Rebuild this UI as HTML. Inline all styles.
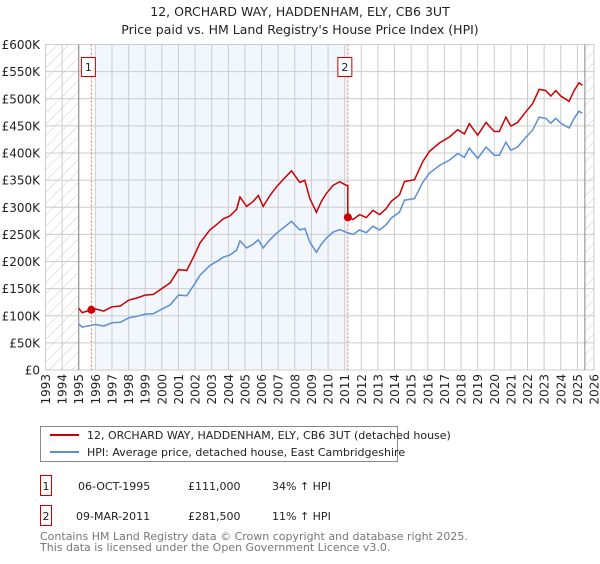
<!DOCTYPE html>
<html><head><meta charset="utf-8"><style>
body{margin:0;background:#fff;font-family:"DejaVu Sans","Liberation Sans",sans-serif;}
svg text{font-family:"DejaVu Sans","Liberation Sans",sans-serif;}
</style></head><body>
<svg id="chart" width="600" height="560" xmlns="http://www.w3.org/2000/svg">
<defs><pattern id="hatch" patternUnits="userSpaceOnUse" width="8" height="8" patternTransform="rotate(45)"><line x1="0" y1="0" x2="0" y2="8" stroke="#ccc" stroke-width="1"/></pattern></defs>
<text x="300" y="16" text-anchor="middle" font-size="12.5" fill="#222">12, ORCHARD WAY, HADDENHAM, ELY, CB6 3UT</text>
<text x="300" y="34" text-anchor="middle" font-size="12.5" fill="#222">Price paid vs. HM Land Registry's House Price Index (HPI)</text>
<g id="plot"></g>
<g>
<rect x="40.5" y="426.5" width="357" height="35" fill="#fff" stroke="#888"/>
<line x1="50" y1="435" x2="79" y2="435" stroke="#cc0000" stroke-width="2"/>
<text x="87" y="439" font-size="11" fill="#222">12, ORCHARD WAY, HADDENHAM, ELY, CB6 3UT (detached house)</text>
<line x1="50" y1="452" x2="79" y2="452" stroke="#5b8fd4" stroke-width="2"/>
<text x="87" y="456" font-size="11" fill="#222">HPI: Average price, detached house, East Cambridgeshire</text>
</g>
<g font-size="11" fill="#222">
<rect x="40.5" y="475.5" width="11" height="20" fill="#fff" stroke="#cc0000"/>
<text x="46" y="490" text-anchor="middle">1</text>
<text x="78" y="490">06-OCT-1995</text><text x="188" y="490">£111,000</text><text x="272" y="490">34% ↑ HPI</text>
<rect x="40.5" y="505.5" width="11" height="20" fill="#fff" stroke="#cc0000"/>
<text x="46" y="520" text-anchor="middle">2</text>
<text x="76" y="520">09-MAR-2011</text><text x="188" y="520">£281,500</text><text x="272" y="520">11% ↑ HPI</text>
</g>
<text x="40" y="540" font-size="11" fill="#777">Contains HM Land Registry data © Crown copyright and database right 2025.</text>
<text x="40" y="551" font-size="11" fill="#777">This data is licensed under the Open Government Licence v3.0.</text>
</svg>
<script>
const hpiYears=[1995.0,1995.2,1995.5,1996.0,1996.5,1997.0,1997.5,1998.0,1998.5,1999.0,1999.5,2000.0,2000.5,2001.0,2001.5,2002.0,2002.3,2002.9,2003.3,2003.7,2004.1,2004.5,2004.7,2005.1,2005.5,2005.8,2006.1,2006.5,2006.9,2007.3,2007.8,2008.3,2008.6,2008.9,2009.3,2009.6,2009.9,2010.3,2010.7,2011.1,2011.5,2011.9,2012.3,2012.7,2013.1,2013.5,2013.8,2014.3,2014.6,2015.2,2015.7,2016.1,2016.7,2017.3,2017.8,2018.2,2018.5,2019.0,2019.5,2020.0,2020.3,2020.7,2021.0,2021.4,2021.9,2022.3,2022.7,2023.1,2023.4,2023.7,2024.0,2024.5,2024.8,2025.1,2025.3];
const hpiValues=[85,79,81,84,81,87,88,96,99,103,104,112,120,138,137,160,175,193,200,208,212,221,238,225,232,240,225,240,252,262,274,258,261,236,217,232,243,254,259,254,250,258,253,265,258,268,280,291,313,316,346,363,377,387,399,392,409,390,411,396,396,420,405,411,429,442,466,464,455,464,455,446,464,477,473];
const saleYears=[1995.76,2011.19];
const salePrices=[111,281.5];
const saleRatios=[1.34,1.11];
const yTicks=[0,50,100,150,200,250,300,350,400,450,500,550,600];
const xTicks=[1993,1994,1995,1996,1997,1998,1999,2000,2001,2002,2003,2004,2005,2006,2007,2008,2009,2010,2011,2012,2013,2014,2015,2016,2017,2018,2019,2020,2021,2022,2023,2024,2025,2026];

const L=45.5,R=594,T=44.5,B=370;
const X=y=>L+(y-1993)/(2026-1993)*(R-L);
const Y=v=>B-v/600*(B-T);
const NS="http://www.w3.org/2000/svg";
const g=document.getElementById('plot');
function mk(tag,attrs,parent){const e=document.createElementNS(NS,tag);for(const k in attrs)e.setAttribute(k,attrs[k]);(parent||g).appendChild(e);return e;}

const bg=mk('rect',{x:L,y:T,width:R-L,height:B-T,fill:'#fff'});


const sh=mk('rect',{x:X(1996),y:T,width:X(saleYears[1])-X(1996),height:B-T,fill:'#f2f6fd'});


const h1=mk('rect',{x:L,y:T,width:X(1995)-L,height:B-T,fill:'url(#hatch)'});


const h2=mk('rect',{x:X(2025.45),y:T,width:R-X(2025.45),height:B-T,fill:'url(#hatch)'});



yTicks.forEach(v=>{
  const l=mk('line',{x1:L,x2:R,y1:Y(v),y2:Y(v),stroke:'#ccc','stroke-width':1});
  
  
  const t=mk('text',{x:40,y:Y(v)+4.5,'text-anchor':'end','font-size':12,fill:'#222'});
  
  
  t.textContent=v===0?'£0':'£'+v+'K';
});
xTicks.forEach(yr=>{
  const l=mk('line',{x1:X(yr),x2:X(yr),y1:T,y2:B,stroke:'#ccc','stroke-width':1});
  
  
  const t=mk('text',{x:0,y:0,'text-anchor':'end','font-size':12,fill:'#222',transform:`translate(${X(yr)+4.5},374) rotate(-90)`});
  
  
  t.textContent=yr;
});
const v1=mk('line',{x1:X(1995),x2:X(1995),y1:T,y2:B,stroke:'#888','stroke-width':1});


const v2=mk('line',{x1:X(2025.45),x2:X(2025.45),y1:T,y2:B,stroke:'#888','stroke-width':1});



saleYears.forEach((sy,i)=>{
  const l=mk('line',{x1:X(sy),x2:X(sy),y1:T,y2:B,stroke:'#e07070','stroke-width':1,'stroke-dasharray':'2,2'});
  
  
  const r=mk('rect',{x:X(sy)-10,y:57.5,width:14,height:19,fill:'#fff',stroke:'#cc0000'});
  
  
  const t=mk('text',{x:X(sy)-3,y:71,'text-anchor':'middle','font-size':11,fill:'#222'});
  
  
  t.textContent=i+1;
});

const hp=hpiYears.map((y,i)=>X(y).toFixed(1)+','+Y(hpiValues[i]).toFixed(1)).join(' ');
const hl=mk('polyline',{points:hp,fill:'none',stroke:'#5b8fd4','stroke-width':1.5});



const rp=[];
hpiYears.forEach((y,i)=>{
  if(y<saleYears[1]) rp.push([y,hpiValues[i]*saleRatios[0]]);
});
rp.push([saleYears[1],hpiValues[hpiYears.findIndex(y=>y>=saleYears[1])-1]*saleRatios[0]]);
rp.push([saleYears[1],salePrices[1]]);
hpiYears.forEach((y,i)=>{
  if(y>saleYears[1]) rp.push([y,hpiValues[i]*saleRatios[1]]);
});
const pl=mk('polyline',{points:rp.map(p=>X(p[0]).toFixed(1)+','+Y(p[1]).toFixed(1)).join(' '),fill:'none',stroke:'#cc0000','stroke-width':1.5});


saleYears.forEach((sy,i)=>{
  const c=mk('circle',{cx:X(sy),cy:Y(salePrices[i]),r:4,fill:'#cc0000'});
  
  
});
</script>
</body></html>
